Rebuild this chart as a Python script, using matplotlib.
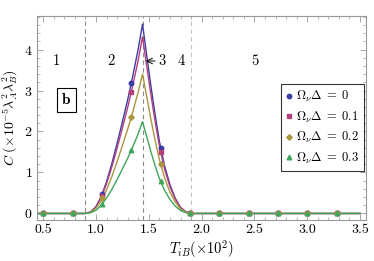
import numpy as np
import matplotlib
matplotlib.use("Agg")
import matplotlib.pyplot as plt
from matplotlib.ticker import MultipleLocator

plt.rcParams["font.family"] = "serif"
plt.rcParams["font.serif"] = ["cmr10", "DejaVu Serif"]
plt.rcParams["mathtext.fontset"] = "cm"
plt.rcParams["axes.formatter.use_mathtext"] = True

# curve samples
t_curve = [0.45, 0.9, 0.95, 1.0, 1.05, 1.1, 1.15, 1.2, 1.25, 1.3, 1.35, 1.4, 1.44,
           1.48, 1.52, 1.56, 1.6, 1.65, 1.7, 1.75, 1.8, 1.85, 1.9, 3.5]
c_w0 = [0, 0, 0.04, 0.17, 0.42, 0.78, 1.22, 1.72, 2.24, 2.78, 3.38, 4.02, 4.62,
        3.85, 3.10, 2.40, 1.76, 1.15, 0.70, 0.37, 0.15, 0.04, 0, 0]
c_w1 = [0, 0, 0.04, 0.16, 0.39, 0.73, 1.14, 1.60, 2.09, 2.59, 3.15, 3.75, 4.31,
        3.59, 2.89, 2.24, 1.64, 1.07, 0.65, 0.35, 0.14, 0.04, 0, 0]
c_w2 = [0, 0, 0.03, 0.13, 0.31, 0.58, 0.90, 1.27, 1.66, 2.06, 2.50, 2.97, 3.40,
        2.85, 2.29, 1.78, 1.31, 0.86, 0.52, 0.28, 0.11, 0.03, 0, 0]
c_w3 = [0, 0, 0.02, 0.08, 0.20, 0.38, 0.59, 0.83, 1.09, 1.35, 1.64, 1.95, 2.24,
        1.87, 1.50, 1.16, 0.85, 0.56, 0.34, 0.18, 0.07, 0.02, 0, 0]

# sampled points (markers)
t_pts = [0.5, 0.778, 1.056, 1.333, 1.611, 1.889, 2.167, 2.444, 2.722, 3.0, 3.278]
p_w0 = [0, 0, 0.48, 3.19, 1.60, 0, 0, 0, 0, 0, 0]
p_w1 = [0, 0, 0.43, 2.96, 1.49, 0, 0, 0, 0, 0, 0]
p_w2 = [0, 0, 0.37, 2.35, 1.21, 0, 0, 0, 0, 0, 0]
p_w3 = [0, 0, 0.23, 1.55, 0.79, 0, 0, 0, 0, 0, 0]

labels = [r"$\Omega_\nu\Delta\;=\;0$", r"$\Omega_\nu\Delta\;=\;0.1$",
          r"$\Omega_\nu\Delta\;=\;0.2$", r"$\Omega_\nu\Delta\;=\;0.3$"]
colors = ["#3d3ca6", "#b2407a", "#a8963e", "#3ea55a"]
markers = ["o", "s", "D", "^"]
msizes = [3.2, 2.9, 2.8, 3.3]

region_x = [0.62, 1.14, 1.62, 1.81, 2.50]
region_lbl = ["1", "2", "3", "4", "5"]
boundaries = [0.895, 1.441, 1.896]

fig = plt.figure(figsize=(3.74, 2.61), dpi=100)
ax = fig.add_axes([0.098, 0.157, 0.8805, 0.7816])

for b, col in zip(boundaries, ["#8a8a8a", "#8a8a8a", "#c4c4c4"]):
    ax.axvline(b, color=col, lw=0.8, ls=(0, (4, 3)), zorder=1)

curves = [c_w0, c_w1, c_w2, c_w3]
points = [p_w0, p_w1, p_w2, p_w3]
for cv, pt, col, mk, ms, lb in zip(curves, points, colors, markers, msizes, labels):
    ax.plot(t_curve, cv, color=col, lw=1.0, zorder=2)
    ax.plot(t_pts, pt, ls="none", marker=mk, ms=ms, color=col, mec=col, label=lb, zorder=3)

for x, s in zip(region_x, region_lbl):
    ax.text(x, 3.72, s, ha="center", va="center", fontsize=10.5)
ax.annotate("", xy=(1.445, 3.72), xytext=(1.585, 3.72),
            arrowprops=dict(arrowstyle="->", lw=0.7, color="black"))
ax.text(0.72, 2.77, r"$\mathbf{b}$", ha="center", va="center", fontsize=11,
        bbox=dict(boxstyle="square,pad=0.3", fc="white", ec="black", lw=0.8))

ax.set_xlim(0.4375, 3.556)
ax.set_ylim(-0.16, 4.817)
ax.xaxis.set_major_locator(MultipleLocator(0.5))
ax.xaxis.set_minor_locator(MultipleLocator(0.1))
ax.yaxis.set_major_locator(MultipleLocator(1))
ax.yaxis.set_minor_locator(MultipleLocator(0.2))
ax.set_xticks([0.5, 1.0, 1.5, 2.0, 2.5, 3.0, 3.5])
ax.set_xticklabels(["0.5", "1.0", "1.5", "2.0", "2.5", "3.0", "3.5"])
ax.tick_params(which="both", direction="in", top=True, right=True, color="#999999",
               labelsize=10, pad=3)
ax.tick_params(which="major", length=4, width=0.6)
ax.tick_params(which="minor", length=2, width=0.5)
for sp in ax.spines.values():
    sp.set_color("#999999")
    sp.set_linewidth(0.8)

ax.set_xlabel(r"$T_{iB}(\times 10^2)$", fontsize=10.5, labelpad=1)
ax.set_ylabel(r"$C\ (\times 10^{-5}\lambda_A^2\lambda_B^2)$", fontsize=10, labelpad=3)

leg = ax.legend(loc="upper right", bbox_to_anchor=(0.994, 0.665), fontsize=9,
                frameon=True, fancybox=False, handlelength=0.5, handletextpad=0.3,
                borderpad=0.4, labelspacing=0.42, borderaxespad=0)
leg.get_frame().set_edgecolor("black")
leg.get_frame().set_linewidth(0.8)

fig.savefig("out.png", dpi=100)
